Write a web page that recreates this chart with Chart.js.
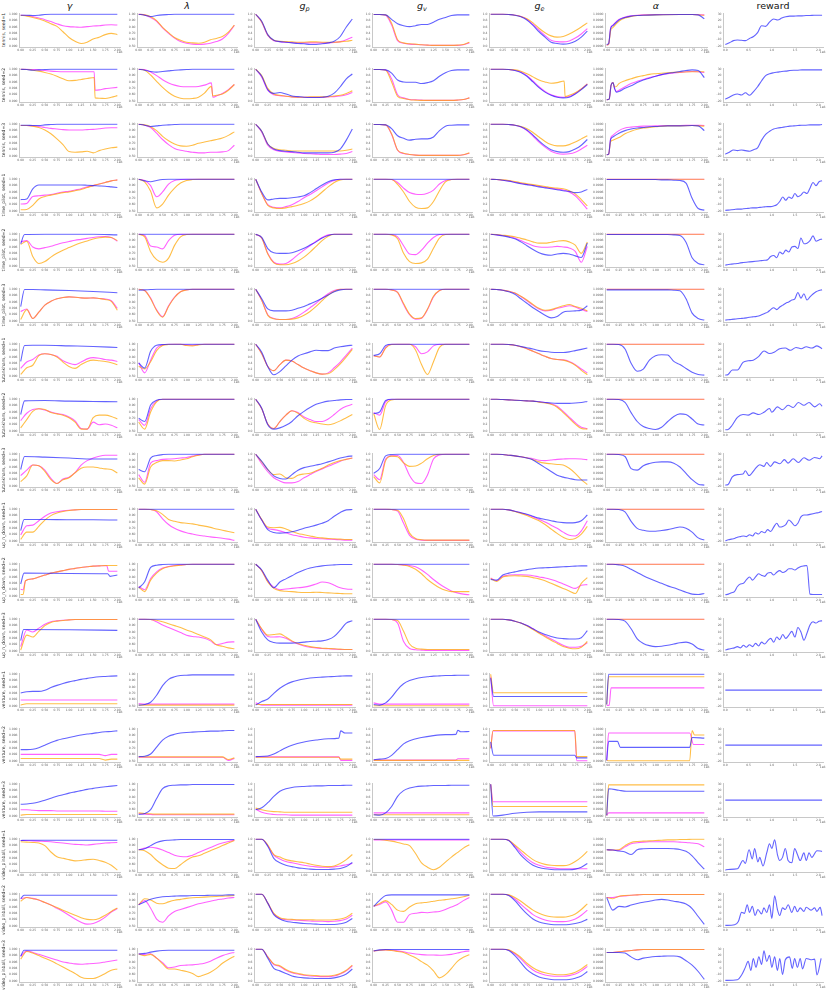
<!DOCTYPE html>
<html><head><meta charset="utf-8">
<script src="https://cdn.jsdelivr.net/npm/chart.js@4"></script>
<style>
html,body{margin:0;padding:0;background:#fff;}
body{width:830px;height:997px;position:relative;overflow:hidden;font-family:"DejaVu Sans",sans-serif;}
canvas{position:absolute;}
.hdr{position:absolute;top:0;font-size:9.5px;line-height:12px;color:#111;transform:translateX(-50%);white-space:nowrap;}
.hdr i{font-style:italic;}
.hdr sub{font-size:6.5px;vertical-align:-2px;}
.rl{position:absolute;width:80px;height:6px;line-height:6px;font-size:4.5px;color:#333;text-align:center;transform:rotate(-90deg);white-space:nowrap;}
</style>
</head><body>
<script>
// ---------- labels ----------
const columnTitles = ['<i>γ</i>','<i>λ</i>','<i>g</i><sub><i>p</i></sub>','<i>g</i><sub><i>v</i></sub>','<i>g</i><sub><i>e</i></sub>','<i>α</i>','reward'];
const rowLabels = ['tennis, seed=1','tennis, seed=2','tennis, seed=3','time_pilot, seed=1','time_pilot, seed=2','time_pilot, seed=3','tutankham, seed=1','tutankham, seed=2','tutankham, seed=3','up_n_down, seed=1','up_n_down, seed=2','up_n_down, seed=3','venture, seed=1','venture, seed=2','venture, seed=3','video_pinball, seed=1','video_pinball, seed=2','video_pinball, seed=3'];
const xTickVals = [0,0.25,0.5,0.75,1,1.25,1.5,1.75,2];
const xTickLabels = ['0.00','0.25','0.50','0.75','1.00','1.25','1.50','1.75','2.00'];
const rewardXTickVals = [0,0.5,1,1.5,2];
const rewardXTickLabels = ['0.0','0.5','1.0','1.5','2.0'];
const yTickVals = [0,20,40,60,80,100];
const gammaTickLabels = ['0.990','0.992','0.994','0.996','0.998','1.000'];
const lambdaTickLabels = ['0.50','0.60','0.70','0.80','0.90','1.00'];
const gpTickLabels = ['0.0','0.2','0.4','0.6','0.8','1.0'];
const gvTickLabels = ['0.0','0.2','0.4','0.6','0.8','1.0'];
const geTickLabels = ['0.0','0.2','0.4','0.6','0.8','1.0'];
const alphaTickLabels = ['0.9990','0.9992','0.9994','0.9996','0.9998','1.0000'];
const rewardTickLabels = ['-20','-10','0','10','20','30'];

// ---------- data: each panel = [blue, magenta, orange], values in % of panel height ----------
// tennis seed=1
const tennis1_gamma = [[97,97,96,97,99,100,100,100,100,100,100,100,100,100,100,100,100],[97,96,93,88,83,77,70,64,61,60,59,61,63,64,66,67,66],[97,94,90,85,79,70,62,45,27,15,8,12,22,28,36,40,36]];
const tennis1_lambda = [[100,97,93,96,98,99,100,100,100,100,100,100,100,100,100,100,100],[100,98,90,78,57,40,25,14,9,6,5,6,9,14,22,40,65],[100,98,92,80,59,42,27,18,12,10,9,12,20,24,30,44,66]];
const tennis1_gp = [[100,78,36,18,14,12,10,8,7,5,5,7,10,15,30,60,85],[100,75,33,17,14,12,11,10,10,10,10,10,10,11,14,20,28],[100,76,35,18,15,14,13,12,12,13,13,12,12,12,13,15,18]];
const tennis1_gv = [[99,99,98,84,70,64,61,64,68,68,75,84,90,96,98,98,98],[99,99,97,66,17,9,6,5,4,3,2,2,2,2,2,4,10],[99,99,98,72,20,10,7,6,4,3,2,2,2,2,3,5,12]];
const tennis1_ge = [[100,100,100,99,97,92,82,65,45,28,12,8,6,8,15,28,47],[100,100,100,99,97,93,84,68,50,33,18,14,13,16,25,38,55],[100,100,100,99,97,93,86,73,56,42,32,28,30,38,48,60,73]];
const tennis1_alpha = [[[0,5],[0.04,8],[0.08,55],[0.125,64],[0.25,82],[0.375,90],[0.5,94],[0.625,96],[0.75,97],[1,98],[1.5,99],[1.75,99],[1.875,98],[2,86]],[[0,3],[0.04,6],[0.08,56],[0.125,66],[0.25,84],[0.375,91],[0.5,95],[0.625,97],[0.75,98],[1,99],[1.5,99],[1.75,99],[2,98]],[[0,3],[0.04,6],[0.08,48],[0.125,58],[0.25,78],[0.375,88],[0.5,93],[0.625,96],[0.75,97],[1,98],[1.5,99],[1.75,99],[2,97]]];
const tennis1_reward = [5,10,17,19,18,17,24,30,42,64,62,76,85,82,88,92,94,94,95,95,96,96,97,97,97];
// tennis seed=2
const tennis2_gamma = [[100,99,97,98,99,100,100,100,100,100,100,100,100,100,100,100,100],[[0,100],[0.125,100],[0.25,99],[0.375,98],[0.5,96],[0.625,94],[0.75,93],[1,92],[1.52,92],[1.54,34],[1.625,35],[1.75,39],[1.875,41],[2,43]],[[0,100],[0.125,99],[0.25,97],[0.375,94],[0.5,90],[0.625,85],[0.75,78],[0.875,70],[1,64],[1.125,65],[1.25,68],[1.375,71],[1.52,74],[1.54,10],[1.625,9],[1.75,8],[1.875,12],[2,17]]];
const tennis2_lambda = [[100,97,93,91,93,95,97,98,99,100,100,100,100,100,100,100,100],[[0,100],[0.125,99],[0.25,91],[0.375,80],[0.5,67],[0.625,57],[0.75,50],[0.875,46],[1,45],[1.125,45],[1.25,46],[1.375,50],[1.52,57],[1.55,12],[1.625,16],[1.75,24],[1.875,36],[2,52]],[[0,100],[0.125,97],[0.25,82],[0.375,62],[0.5,43],[0.625,27],[0.75,15],[0.875,9],[1,7],[1.125,8],[1.25,12],[1.375,25],[1.52,46],[1.55,16],[1.625,18],[1.75,22],[1.875,34],[2,52]]];
const tennis2_gp = [[100,78,36,24,27,22,16,14,12,11,11,12,15,25,45,70,85],[100,75,34,20,17,15,13,12,12,12,12,12,13,14,16,20,27],[100,80,40,22,18,15,13,12,12,13,13,13,14,16,18,24,32]];
const tennis2_gv = [[99,99,98,88,66,60,59,59,55,58,64,78,89,96,98,98,98],[99,99,98,70,20,10,5,4,3,2,2,2,2,2,3,5,10],[99,99,97,60,15,8,4,3,2,2,2,2,2,2,3,5,10]];
const tennis2_ge = [[100,100,100,99,96,90,78,60,42,28,18,12,10,12,22,36,52],[100,100,100,99,97,91,80,63,45,30,20,14,12,14,24,38,54],[[0,100],[0.25,100],[0.375,99],[0.5,98],[0.625,94],[0.75,86],[0.875,76],[1,66],[1.125,60],[1.25,56],[1.375,58],[1.52,63],[1.54,14],[1.625,18],[1.75,26],[1.875,38],[2,54]]];
const tennis2_alpha = [[[0,4],[0.05,6],[0.09,50],[0.13,58],[0.16,40],[0.2,28],[0.25,30],[0.375,40],[0.5,48],[0.625,58],[0.75,66],[0.875,72],[1,78],[1.125,83],[1.25,87],[1.375,90],[1.5,93],[1.625,96],[1.75,98],[1.875,96],[2,74]],[[0,4],[0.05,6],[0.09,50],[0.13,58],[0.16,40],[0.2,30],[0.25,34],[0.375,45],[0.5,55],[0.625,62],[0.75,68],[0.875,74],[1,78],[1.125,83],[1.25,86],[1.375,88],[1.5,90],[1.625,92],[1.75,93],[1.875,92],[2,90]],[[0,4],[0.05,6],[0.09,50],[0.13,58],[0.16,44],[0.2,46],[0.25,55],[0.375,64],[0.5,70],[0.625,76],[0.75,80],[0.875,84],[1,86],[1.25,89],[1.5,91],[1.75,92],[2,92]]];
const tennis2_reward = [6,12,19,22,19,26,18,30,45,64,80,86,89,91,93,94,96,97,97,98,98,98,98,98,98];
// tennis seed=3
const tennis3_gamma = [[97,97,96,96,98,99,100,100,100,100,100,100,100,100,100,100,100],[96,96,95,93,90,87,85,83,82,82,82,83,84,86,88,89,89],[96,96,94,90,82,70,54,36,14,12,13,15,10,17,22,26,28]];
const tennis3_lambda = [[100,97,93,95,97,98,99,100,100,100,100,100,100,100,100,100,100],[100,97,90,72,52,36,24,18,15,12,10,10,12,12,13,17,34],[100,98,92,80,62,48,38,32,31,34,40,44,48,52,57,65,76]];
const tennis3_gp = [[100,78,38,22,17,15,14,12,10,10,10,10,10,12,22,50,85],[100,75,34,20,15,13,11,10,8,7,6,5,5,5,6,8,14],[100,78,38,24,20,18,16,16,16,16,16,16,16,16,16,18,22]];
const tennis3_gv = [[99,99,98,86,64,56,50,53,54,54,60,80,94,97,98,98,98],[99,99,98,68,18,8,5,3,2,2,2,2,2,2,2,4,9],[99,99,98,70,19,9,5,3,2,2,2,2,2,2,2,4,10]];
const tennis3_ge = [[100,100,100,99,97,92,82,66,48,32,20,14,12,14,22,34,52],[100,100,100,99,97,91,80,63,44,28,15,8,6,7,12,22,34],[100,100,100,99,97,93,86,74,60,46,36,32,32,36,44,54,64]];
const tennis3_alpha = [[[0,4],[0.04,6],[0.08,52],[0.125,60],[0.25,72],[0.375,80],[0.5,85],[0.625,88],[0.75,90],[0.875,92],[1,93],[1.25,95],[1.5,95],[1.75,96],[1.875,95],[2,80]],[[0,4],[0.04,6],[0.08,55],[0.125,65],[0.25,80],[0.375,88],[0.5,91],[0.625,93],[0.75,94],[1,95],[1.25,96],[1.5,96],[1.75,97],[2,96]],[[0,4],[0.04,6],[0.08,45],[0.125,50],[0.25,58],[0.375,70],[0.5,78],[0.625,84],[0.75,88],[0.875,90],[1,92],[1.25,95],[1.5,95],[1.75,96],[2,94]]];
const tennis3_reward = [6,12,19,17,19,17,15,20,26,50,68,78,85,88,90,92,94,95,96,97,97,98,98,98,99];
// time_pilot seed=1
const timepilot1_gamma = [[36,38,70,82,82,82,82,82,82,82,82,81,80,79,78,76,74],[22,24,46,48,50,52,56,60,62,66,70,76,80,85,90,95,98],[4,5,18,38,46,50,54,58,60,64,68,74,80,85,90,95,98]];
const timepilot1_lambda = [[100,95,92,96,99,100,100,100,100,100,100,100,100,100,100,100,100],[100,96,80,45,60,85,96,99,100,100,100,100,100,100,100,100,100],[100,92,62,10,22,50,72,88,96,99,100,100,100,100,100,100,100]];
const timepilot1_gp = [[100,60,35,38,40,40,42,44,48,58,70,82,92,98,100,100,100],[100,55,20,12,10,14,20,30,42,52,64,76,88,96,100,100,100],[100,55,18,10,8,10,14,18,24,32,44,60,76,90,98,100,100]];
const timepilot1_gv = [[100,100,100,100,100,100,100,100,100,100,100,100,100,100,100,100,100],[100,100,100,99,90,72,58,53,52,56,66,85,96,99,100,100,100],[100,100,100,99,84,60,30,12,8,10,30,64,92,99,100,100,100]];
const timepilot1_ge = [[100,99,97,94,90,86,83,80,76,73,70,67,64,62,58,60,68],[100,99,97,95,91,87,84,81,78,75,72,69,66,60,48,28,6],[100,99,98,96,93,89,86,83,80,77,74,72,70,64,54,36,16]];
const timepilot1_alpha = [[99,99,99,99,99,99,99,99,99,98,98,97,96,88,40,8,3],[100,100,100,100,100,100,100,100,100,100,100,100,100,100,100,100,100],[100,100,100,100,100,100,100,100,100,100,100,100,100,100,100,100,100]];
const timepilot1_reward = [2,3,4,5,6,6,7,8,9,10,10,11,12,13,14,14,16,20,30,44,34,44,40,55,45,50,60,55,72,90,80,92,95];
// time_pilot seed=2
const timepilot2_gamma = [[[0,70],[0.08,99],[0.5,100],[1.5,100],[2,98]],[76,80,60,54,58,62,68,73,77,81,84,87,90,92,93,90,78],[68,78,30,8,14,28,40,50,58,66,73,79,85,89,91,90,80]];
const timepilot2_lambda = [[100,100,100,100,100,100,100,100,100,100,100,100,100,100,100,100,100],[100,96,63,60,54,80,97,100,100,100,100,100,100,100,100,100,100],[100,92,45,20,12,25,65,92,99,100,100,100,100,100,100,100,100]];
const timepilot2_gp = [[100,90,55,42,40,40,42,48,56,66,76,88,96,100,100,100,100],[100,88,40,12,6,8,20,36,50,64,78,90,98,100,100,100,100],[100,88,38,10,4,4,8,16,28,44,62,80,94,100,100,100,100]];
const timepilot2_gv = [[100,100,100,100,100,100,100,100,100,100,100,100,100,100,100,100,100],[100,100,100,99,92,64,38,36,50,72,90,99,100,100,100,100,100],[100,100,100,98,86,40,14,8,10,22,56,88,99,100,100,100,100]];
const timepilot2_ge = [[100,98,95,91,86,76,64,52,42,36,34,38,40,38,32,27,72],[100,98,96,93,88,80,72,64,60,59,60,62,60,57,46,12,62],[100,99,97,95,92,87,82,76,72,72,75,78,80,76,66,40,76]];
const timepilot2_alpha = [[99,99,99,99,99,99,99,99,99,99,99,98,96,75,26,8,4],[100,100,100,100,100,100,100,100,100,100,100,100,100,100,100,100,100],[100,100,100,100,100,100,100,100,100,100,100,100,100,100,100,100,100]];
const timepilot2_reward = [3,5,6,7,8,10,11,12,13,14,15,16,17,18,20,30,33,26,44,38,50,44,60,62,55,88,70,72,80,95,78,82,85];
// time_pilot seed=3
const timepilot3_gamma = [[[0,45],[0.08,99],[0.25,99],[0.5,98],[1,96],[1.5,93],[2,89]],[30,38,8,28,50,62,70,74,76,75,73,72,73,71,69,64,40],[5,36,8,28,50,62,70,74,76,75,73,72,73,71,68,62,34]];
const timepilot3_lambda = [[97,98,99,100,100,100,100,100,100,100,100,100,100,100,100,100,100],[100,96,72,35,14,48,75,92,98,100,100,100,100,100,100,100,100],[100,96,70,33,12,46,74,92,98,100,100,100,100,100,100,100,100]];
const timepilot3_gp = [[100,70,38,32,32,32,34,40,46,54,62,72,82,92,98,100,100],[100,65,20,8,5,5,8,16,28,42,56,72,86,96,100,100,100],[100,65,18,7,5,5,6,10,18,30,46,64,82,94,100,100,100]];
const timepilot3_gv = [[100,100,100,100,100,100,100,100,100,100,100,100,100,100,100,100,100],[100,100,100,98,90,52,20,6,9,36,76,96,100,100,100,100,100],[100,100,100,98,90,55,22,8,10,38,78,96,100,100,100,100,100]];
const timepilot3_ge = [[100,99,97,92,84,70,56,42,30,18,10,14,28,31,32,34,48],[100,99,97,94,88,77,64,50,38,32,34,40,44,48,44,36,30],[100,99,97,94,88,78,66,52,40,34,36,42,48,52,46,40,32]];
const timepilot3_alpha = [[98,98,98,98,98,98,98,98,98,98,98,97,95,70,25,8,3],[100,100,100,100,100,100,100,100,100,100,100,100,100,100,100,100,100],[100,100,100,100,100,100,100,100,100,100,100,100,100,100,100,100,100]];
const timepilot3_reward = [3,4,5,6,7,8,9,10,12,13,14,16,20,24,28,36,42,36,44,50,56,60,66,70,90,72,86,66,76,85,92,96,98];
// tutankham seed=1
const tutankham1_gamma = [[[0,46],[0.08,96],[0.25,97],[0.5,97],[1,95],[1.5,93],[2,90]],[24,44,52,66,70,68,62,48,40,36,44,54,58,56,52,50,46],[5,26,34,64,70,68,60,44,30,24,36,46,50,48,46,42,36]];
const tutankham1_lambda = [[41,25,78,97,99,100,100,100,100,100,100,100,100,100,100,100,100],[42,10,50,88,98,100,100,100,98,97,99,100,100,100,100,100,100],[31,22,45,80,96,99,100,100,96,95,98,100,100,100,100,100,100]];
const tutankham1_gp = [[100,75,30,4,14,32,50,63,70,76,81,80,80,88,92,95,97],[100,70,30,17,36,50,47,36,25,17,10,6,10,26,44,66,88],[100,70,30,17,36,50,47,36,25,17,10,6,7,20,38,60,84]];
const tutankham1_gv = [[65,70,96,100,100,100,100,100,100,100,100,100,100,100,100,100,100],[64,60,90,100,100,100,100,92,70,76,95,100,100,100,100,100,100],[64,60,88,99,100,100,100,82,36,5,45,90,100,100,100,100,100]];
const tutankham1_ge = [[100,100,100,99,97,93,89,85,80,77,75,74,74,76,80,84,88],[100,100,100,99,97,92,86,78,70,62,55,52,51,46,36,22,10],[100,100,100,99,97,92,86,78,70,62,55,52,50,44,34,18,4]];
const tutankham1_alpha = [[100,100,99,85,40,15,22,50,64,67,66,46,36,24,12,5,3],[100,100,100,100,100,100,100,100,100,100,100,100,100,100,100,100,100],[100,100,100,100,100,100,100,100,100,100,100,100,100,100,100,100,100]];
const tutankham1_reward = [[0,3],[0.06,5],[0.15,19],[0.26,19],[0.38,43],[0.49,48],[0.6,50],[0.72,62],[0.83,79],[0.95,71],[1.06,76],[1.17,86],[1.29,88],[1.4,81],[1.52,90],[1.63,86],[1.74,92],[1.86,88],[1.97,95],[2.08,86]];
// tutankham seed=2
const tutankham2_gamma = [[[0,52],[0.08,95],[0.5,96],[1,94],[1.5,93],[2,92]],[33,56,68,70,66,60,55,52,44,32,8,6,28,20,22,18,10],[10,36,62,70,68,58,54,50,42,28,6,6,42,50,50,46,38]];
const tutankham2_lambda = [[40,30,82,97,100,100,100,100,100,100,100,100,100,100,100,100,100],[36,18,70,95,100,100,100,100,100,100,100,100,100,100,100,100,100],[28,6,60,92,100,100,100,100,100,100,100,100,100,100,100,100,100]];
const tutankham2_gp = [[100,72,20,6,10,18,30,48,62,74,84,90,94,96,98,99,99],[100,70,22,8,30,50,64,58,44,36,30,30,38,52,68,78,84],[100,70,22,8,30,50,64,56,40,30,26,22,20,24,32,42,52]];
const tutankham2_gv = [[55,60,96,100,100,100,100,100,100,100,100,100,100,100,100,100,100],[58,50,92,100,100,100,100,100,100,100,100,100,100,100,100,100,100],[55,5,80,98,100,100,100,100,100,100,100,100,100,100,100,100,100]];
const tutankham2_ge = [[100,100,99,98,97,96,95,94,92,90,88,87,87,87,88,90,93],[100,100,99,98,97,96,95,94,92,90,86,78,62,44,26,12,8],[100,100,99,98,97,96,95,94,91,88,84,75,58,40,22,8,6]];
const tutankham2_alpha = [[100,100,99,90,58,30,14,8,5,12,30,46,54,52,38,22,19],[100,100,100,100,100,100,100,100,100,100,100,100,100,100,100,100,100],[100,100,100,100,100,100,100,100,100,100,100,100,100,100,100,100,100]];
const tutankham2_reward = [[0,4],[0.06,5],[0.15,19],[0.26,43],[0.38,52],[0.49,50],[0.6,57],[0.72,52],[0.83,59],[0.95,71],[1.0,59],[1.12,76],[1.23,67],[1.35,81],[1.46,74],[1.57,90],[1.69,81],[1.8,90],[1.92,76],[2.03,86],[2.08,78]];
// tutankham seed=3
const tutankham3_gamma = [[[0,52],[0.08,93],[0.5,91],[1,88],[1.5,85],[2,85]],[33,50,66,64,50,24,8,22,28,42,66,80,88,94,97,97,97],[14,32,66,64,46,20,8,20,26,42,56,60,60,57,54,52,41]];
const tutankham3_lambda = [[52,45,88,96,99,100,100,100,100,100,100,100,100,100,100,100,100],[36,12,72,80,84,85,86,88,90,94,98,100,100,100,100,100,100],[26,6,60,74,80,80,79,82,86,92,97,100,100,100,100,100,100]];
const tutankham3_gp = [[100,78,52,32,24,22,36,50,58,62,66,70,76,82,88,92,95],[100,70,45,26,16,10,10,14,26,36,46,54,62,70,78,84,88],[100,76,52,36,38,26,24,34,38,40,48,56,66,74,80,84,88]];
const tutankham3_gv = [[40,55,95,99,100,100,100,100,100,100,100,100,100,100,100,100,100],[36,20,85,95,96,74,33,10,8,35,85,98,100,100,100,100,100],[30,10,80,94,92,73,62,63,72,86,96,100,100,100,100,100,100]];
const tutankham3_ge = [[100,100,99,97,95,92,88,82,70,58,46,34,28,24,20,19,19],[100,100,99,97,95,92,89,86,81,80,82,84,85,86,86,85,83],[100,100,99,97,95,92,88,83,76,72,70,68,66,56,40,20,5]];
const tutankham3_alpha = [[100,100,99,93,55,50,64,71,75,76,76,72,60,40,20,6,3],[100,100,100,100,100,100,100,100,100,100,100,100,100,100,100,100,100],[100,100,100,100,100,100,100,100,100,100,100,100,100,100,100,100,100]];
const tutankham3_reward = [[0,3],[0.06,5],[0.15,29],[0.26,36],[0.38,38],[0.43,48],[0.51,33],[0.63,52],[0.74,67],[0.83,62],[0.89,74],[0.97,62],[1.06,76],[1.17,70],[1.27,83],[1.35,72],[1.46,86],[1.57,74],[1.69,89],[1.8,81],[1.92,90],[2.03,86],[2.08,95]];
// up_n_down seed=1
const upndown1_gamma = [[[0,33],[0.07,68],[0.5,68],[1,67],[1.5,67],[2,66]],[19,48,50,64,78,88,92,95,97,98,99,99,99,99,99,99,99],[5,28,28,46,66,80,88,93,96,98,99,99,99,99,99,99,99]];
const upndown1_lambda = [[100,100,100,100,100,100,100,100,100,100,100,100,100,100,100,100,100],[100,100,99,92,70,52,40,32,26,22,18,16,13,11,9,6,2],[100,100,99,95,84,68,62,58,56,54,50,47,43,38,34,30,26]];
const upndown1_gp = [[100,66,36,27,25,26,29,34,40,45,50,56,64,78,90,98,99],[100,66,40,36,32,26,20,16,12,10,8,7,6,5,4,3,3],[100,68,44,42,43,38,30,24,20,16,12,10,8,7,6,5,5]];
const upndown1_gv = [[100,100,100,100,100,100,100,100,100,100,100,100,100,100,100,100,100],[100,100,100,99,94,56,18,6,3,2,2,2,2,2,2,2,2],[100,100,100,99,97,70,25,8,4,3,3,3,3,3,3,3,3]];
const upndown1_ge = [[100,100,100,98,94,89,84,78,72,68,64,60,58,57,58,64,82],[100,100,100,98,94,89,83,76,68,60,50,40,28,18,16,32,64],[100,100,100,98,93,87,80,72,64,52,38,24,12,5,8,22,46]];
const upndown1_alpha = [[100,100,99,92,62,40,34,31,31,33,36,40,44,40,28,10,3],[100,100,100,100,100,100,100,100,100,100,100,100,100,100,100,100,100],[100,100,100,100,100,100,100,100,100,100,100,100,100,100,100,100,100]];
const upndown1_reward = [1,4,6,8,12,14,16,14,20,16,26,22,30,26,36,30,44,56,44,46,52,66,58,48,56,76,82,82,84,86,88,90,93];
// up_n_down seed=2
const upndown2_gamma = [[[0,38],[0.07,72],[1,71],[1.8,70],[1.85,62],[2,66]],[[0,21],[0.05,20],[0.1,48],[0.25,54],[0.375,60],[0.5,66],[0.625,72],[0.75,76],[0.875,80],[1,84],[1.125,87],[1.25,90],[1.375,92],[1.5,94],[1.625,95],[1.78,96],[1.82,78],[2,78]],[[0,5],[0.05,5],[0.1,48],[0.25,54],[0.375,60],[0.5,66],[0.625,72],[0.75,76],[0.875,80],[1,84],[1.125,87],[1.25,90],[1.375,92],[1.5,94],[1.625,95],[1.75,96],[2,96]]];
const upndown2_lambda = [[25,45,90,97,99,100,100,100,100,100,100,100,100,100,100,100,100],[30,20,55,76,88,93,96,98,99,100,100,100,100,100,100,100,100],[28,14,50,72,86,92,95,97,99,100,100,100,100,100,100,100,100]];
const upndown2_gp = [[100,82,50,26,44,54,64,74,82,88,92,95,97,98,99,99,99],[100,80,46,28,20,22,24,26,28,32,38,44,42,34,26,22,21],[100,80,44,24,17,15,14,12,11,11,12,11,10,9,8,7,7]];
const upndown2_gv = [[100,100,100,100,100,100,100,100,100,100,100,100,100,100,100,100,100],[100,100,100,100,99,98,96,92,82,68,52,38,26,16,10,6,4],[100,100,100,100,99,97,93,84,70,52,38,26,18,14,14,14,14]];
const upndown2_ge = [[52,50,66,72,76,80,83,86,88,89,90,91,92,93,94,95,95],[57,48,62,66,67,67,66,64,60,57,52,46,38,30,24,34,36],[55,46,60,63,64,63,62,58,54,48,40,32,24,16,8,40,58]];
const upndown2_alpha = [[100,100,98,94,84,74,64,55,47,40,32,26,19,12,6,5,8],[100,100,100,100,100,100,100,100,100,100,100,100,100,100,100,100,100],[100,100,100,100,100,100,100,100,100,100,100,100,100,100,100,100,100]];
const upndown2_reward = [4,6,10,14,30,38,40,52,60,50,60,70,65,62,72,74,66,75,80,74,78,86,86,82,88,93,95,96,6,5,5,5,5];
// up_n_down seed=3
const upndown3_gamma = [[[0,33],[0.06,68],[1,67],[2,65]],[14,66,60,72,84,92,95,97,98,99,99,99,99,99,99,99,99],[3,50,44,62,80,90,94,96,98,99,99,99,99,99,99,99,99]];
const upndown3_lambda = [[100,100,100,100,100,100,100,100,100,100,100,100,100,100,100,100,100],[100,100,99,92,82,74,66,58,50,46,44,40,32,20,24,28,29],[100,100,99,97,92,86,80,74,66,60,52,44,36,20,15,10,7]];
const upndown3_gp = [[100,60,35,27,25,25,25,26,28,30,31,32,36,46,66,88,95],[100,68,46,44,45,40,30,22,16,12,10,8,7,6,5,5,5],[100,70,50,52,54,44,32,24,18,14,11,9,8,7,6,5,5]];
const upndown3_gv = [[100,100,100,100,100,100,100,100,100,100,100,100,100,100,100,100,100],[100,100,100,99,88,30,8,4,3,2,2,2,2,2,2,2,2],[100,100,100,99,96,62,22,9,6,5,5,5,5,5,5,5,5]];
const upndown3_ge = [[100,100,100,98,94,88,80,70,60,52,46,41,39,38,38,42,64],[100,100,100,98,94,88,80,70,58,48,38,28,18,12,12,15,26],[100,100,100,98,94,88,79,68,56,45,34,24,14,9,7,12,30]];
const upndown3_alpha = [[100,100,99,94,70,38,24,17,14,15,18,22,26,28,22,8,3],[100,100,100,100,100,100,100,100,100,100,100,100,100,100,100,100,100],[100,100,100,100,100,100,100,100,100,100,100,100,100,100,100,100,100]];
const upndown3_reward = [3,6,8,10,14,10,18,12,20,14,24,16,28,22,32,40,28,44,36,52,40,50,62,44,74,60,34,56,82,92,88,94,95];
// venture seed=1
const venture1_gamma = [[41,45,46,46,50,58,65,71,76,80,84,87,90,92,93,94,95],[19,19,19,19,19,19,19,19,19,19,19,19,19,19,19,19,19],[3,7,7,7,7,7,7,7,7,7,7,7,7,7,7,7,7]];
const venture1_lambda = [[3,5,12,34,64,84,92,96,97,98,98,98,98,98,98,98,98],[8,6,6,6,6,6,6,6,6,6,6,6,6,6,6,6,6],[3,3,3,3,3,3,3,3,3,3,3,3,3,3,3,3,3]];
const venture1_gp = [[3,14,22,40,56,68,76,81,85,88,90,91,92,93,94,95,95],[10,3,3,3,3,3,3,3,3,3,3,3,3,3,3,3,3],[5,5,5,5,5,5,5,5,5,5,5,5,5,5,5,5,5]];
const venture1_gv = [[5,3,10,28,52,70,80,86,90,92,94,95,96,96,97,97,97],[10,6,6,6,6,6,6,6,6,6,6,6,6,6,6,6,6],[1,1,1,1,1,1,1,1,1,1,1,1,1,1,1,1,1]];
const venture1_ge = [[[0,88],[0.06,30],[2,30]],[[0,92],[0.06,1],[2,1]],[[0,100],[0.06,42],[2,42]]];
const venture1_alpha = [[[0,5],[0.04,100],[2,100]],[[0,2],[0.05,2],[0.09,57],[2,57]],[[0,5],[0.04,92],[2,92]]];
const venture1_reward = [50,50,50,50,50,50,50,50,50];
// venture seed=2
const venture2_gamma = [[36,36,37,42,50,58,65,70,74,78,82,85,87,90,92,93,95],[21,21,21,21,21,21,21,21,21,21,21,21,21,21,17,21,21],[8,8,8,8,8,8,8,8,8,8,8,8,8,8,3,6,6]];
const venture2_lambda = [[14,15,22,44,66,78,84,88,90,91,92,93,94,94,95,96,96],[12,12,12,12,12,12,12,12,12,12,12,12,12,12,12,2,8],[13,13,13,13,13,13,13,13,13,13,13,13,13,13,13,5,10]];
const venture2_gp = [[[0,14],[0.25,16],[0.375,22],[0.5,32],[0.625,42],[0.75,50],[1,60],[1.25,66],[1.5,70],[1.72,72],[1.76,95],[1.85,88],[2,88]],[[0,13],[1.72,13],[1.76,2],[2,2]],[[0,12],[1.72,12],[1.76,6],[2,6]]];
const venture2_gv = [[[0,4],[0.125,6],[0.25,8],[0.375,18],[0.5,36],[0.625,54],[0.75,64],[1,74],[1.25,80],[1.5,83],[1.72,84],[1.76,97],[1.82,92],[2,93]],[[0,3],[1.72,3],[1.76,7],[2,7]],[[0,2],[2,2]]];
const venture2_ge = [[[0,60],[0.06,18],[1.74,18],[1.78,10],[2,10]],[[0,40],[0.05,95],[1.74,95],[1.78,1],[2,1]],[[0,40],[0.05,96],[1.74,96],[1.78,14],[2,14]]];
const venture2_alpha = [[[0,2],[0.04,62],[0.22,62],[0.28,43],[1.7,43],[1.75,74],[2,72]],[[0,2],[0.04,88],[1.7,88],[1.78,52],[2,52]],[[0,2],[0.04,1],[1.7,1],[1.75,96],[1.8,82],[2,82]]];
const venture2_reward = [50,50,50,50,50,50,50,50,50];
// venture seed=3
const venture3_gamma = [[37,38,40,44,50,56,62,67,72,76,80,84,87,90,92,94,96],[20,20,18,17,17,17,16,16,16,16,16,16,16,16,15,15,15],[3,5,5,5,5,5,5,5,5,5,5,5,5,5,5,5,5]];
const venture3_lambda = [[5,8,20,55,86,95,97,98,98,99,99,99,99,99,99,99,99],[8,6,5,4,4,4,4,4,4,4,4,4,4,4,4,4,4],[10,8,7,6,6,6,6,6,6,6,6,6,6,6,6,6,6]];
const venture3_gp = [[20,26,42,62,78,86,90,92,93,94,95,95,96,96,96,97,97],[22,12,7,5,4,4,3,3,3,3,3,3,3,3,3,3,3],[25,20,16,14,13,12,12,12,12,12,12,12,12,12,12,12,12]];
const venture3_gv = [[4,3,10,30,62,80,88,92,94,95,96,96,96,97,97,97,97],[10,10,10,10,10,10,10,10,10,10,10,10,10,10,10,10,10],[4,4,4,4,4,4,4,4,4,4,4,4,4,4,4,4,4]];
const venture3_ge = [[[0,100],[0.05,0],[0.25,3],[0.5,9],[0.75,12],[1,13],[2,13]],[[0,100],[0.05,45],[2,45]],[[0,100],[0.05,30],[2,30]]];
const venture3_alpha = [[[0,2],[0.04,86],[0.25,81],[0.4,78],[2,78]],[[0,2],[0.04,10],[2,10]],[[0,2],[0.04,98],[2,98]]];
const venture3_reward = [50,50,50,50,50,50,50,50,50];
// video_pinball seed=1
const videopinball1_gamma = [[96,97,97,97,97,97,97,97,97,97,97,97,97,97,97,97,97],[96,96,95,94,93,92,90,88,86,84,83,82,84,86,88,89,90],[92,91,90,88,80,60,45,40,36,32,33,36,37,33,28,18,3]];
const videopinball1_lambda = [[67,70,80,90,95,97,98,99,99,99,99,99,99,99,99,99,99],[67,72,75,72,66,58,50,46,45,50,58,66,74,82,88,93,97],[67,64,52,34,20,9,8,20,34,44,48,56,64,72,80,88,96]];
const videopinball1_gp = [[100,100,78,40,26,18,14,10,8,6,5,5,5,6,8,14,27],[100,100,80,50,38,30,26,22,18,15,13,12,12,13,16,20,24],[100,100,82,52,44,36,32,29,26,22,18,15,14,16,24,36,52]];
const videopinball1_gv = [[100,100,100,100,100,100,100,100,100,100,100,100,100,100,100,100,100],[98,98,98,98,98,98,98,98,98,98,98,98,98,98,98,98,98],[99,99,97,94,90,85,80,55,26,12,4,12,28,44,58,72,83]];
const videopinball1_ge = [[100,100,100,96,74,50,32,18,11,7,5,4,4,4,6,12,24],[100,100,100,96,78,58,40,26,18,13,10,8,7,7,7,7,7],[100,100,100,97,82,66,50,36,27,21,18,17,17,20,30,44,62]];
const videopinball1_alpha = [[67,66,63,60,52,67,70,71,71,71,71,70,68,62,48,26,6],[67,66,65,76,86,89,91,92,92,92,92,92,91,90,88,86,76],[67,66,67,80,90,93,94,95,96,97,98,98,99,99,100,100,100]];
const videopinball1_reward = [[0,3],[0.06,5],[0.26,7],[0.38,33],[0.43,24],[0.51,67],[0.58,38],[0.63,71],[0.7,29],[0.74,43],[0.81,16],[0.89,57],[0.95,86],[1.0,71],[1.06,98],[1.12,52],[1.17,33],[1.23,43],[1.29,71],[1.35,33],[1.43,26],[1.49,71],[1.55,52],[1.61,33],[1.69,57],[1.74,33],[1.8,57],[1.86,43],[1.97,64],[2.08,62]];
// video_pinball seed=2
const videopinball2_gamma = [[[0,86],[0.07,97],[2,97]],[86,90,87,82,74,66,56,46,34,22,12,6,8,16,28,44,55],[78,90,86,82,74,66,58,50,42,34,26,21,20,24,34,46,57]];
const videopinball2_lambda = [[67,76,84,89,92,93,94,95,95,96,96,96,97,97,97,98,98],[67,80,56,22,12,32,46,52,58,64,70,74,78,82,85,88,90],[67,86,82,72,70,76,81,84,87,89,90,91,92,93,94,95,96]];
const videopinball2_gp = [[100,100,72,36,22,15,12,10,8,7,6,5,5,5,7,12,24],[100,100,72,38,24,20,19,18,17,16,15,15,14,15,17,22,34],[100,100,72,40,26,22,21,20,20,20,19,19,19,20,22,28,40]];
const videopinball2_gv = [[62,81,96,98,98,98,98,98,98,98,98,98,98,98,98,98,98],[62,68,76,50,12,12,36,40,43,42,44,46,52,60,68,80,90],[62,71,80,68,50,46,60,70,73,75,78,81,83,86,88,92,97]];
const videopinball2_ge = [[100,100,100,96,80,58,38,22,13,8,5,4,4,5,8,13,21],[100,100,100,97,85,68,52,36,26,19,15,14,14,16,22,34,50],[100,100,100,98,90,78,64,50,40,33,29,28,28,31,38,52,70]];
const videopinball2_alpha = [[90,50,62,60,66,71,75,78,82,84,82,78,75,69,55,30,5],[90,90,93,95,97,98,99,99,99,99,99,99,99,99,99,99,99],[90,86,94,96,97,98,99,99,99,99,99,99,99,99,99,99,99]];
const videopinball2_reward = [[0,2],[0.2,4],[0.28,14],[0.35,43],[0.41,40],[0.47,67],[0.52,43],[0.58,62],[0.64,33],[0.7,52],[0.78,38],[0.83,57],[0.89,43],[0.95,67],[1.0,24],[1.06,95],[1.12,52],[1.17,33],[1.23,57],[1.29,52],[1.35,67],[1.43,43],[1.49,62],[1.55,45],[1.61,57],[1.69,46],[1.74,59],[1.84,50],[1.92,57],[1.97,46],[2.04,59],[2.08,33]];
// video_pinball seed=3
const videopinball3_gamma = [[[0,78],[0.07,97],[2,97]],[78,95,90,84,78,72,66,60,57,54,53,54,55,57,60,63,66],[69,93,88,80,72,64,54,44,34,24,12,8,8,14,24,34,38]];
const videopinball3_lambda = [[85,87,91,94,96,97,97,97,97,97,97,97,97,97,97,97,97],[85,84,86,72,58,42,44,49,50,51,53,56,62,72,80,86,90],[85,80,84,72,54,38,38,34,30,24,14,20,28,40,56,68,78]];
const videopinball3_gp = [[100,100,72,40,32,24,16,12,10,9,8,8,8,10,14,22,38],[100,100,76,52,46,34,26,22,18,16,15,14,14,16,22,32,48],[100,100,76,54,48,36,28,24,20,18,17,16,16,18,24,34,50]];
const videopinball3_gv = [[95,98,99,99,99,99,99,99,99,99,99,99,99,99,99,99,99],[95,97,98,97,95,92,88,85,83,82,82,81,82,84,88,92,95],[95,97,98,96,93,90,82,73,61,50,32,10,20,40,62,75,83]];
const videopinball3_ge = [[100,100,100,96,80,58,36,22,13,8,5,4,4,5,9,16,30],[100,100,100,97,86,70,50,35,25,19,16,15,15,17,22,32,46],[100,100,100,98,88,74,56,42,32,26,22,20,20,22,28,38,52]];
const videopinball3_alpha = [[90,90,90,88,76,67,72,75,77,78,79,79,76,64,50,30,5],[90,90,92,94,96,98,99,99,99,99,99,99,99,99,99,99,99],[90,90,92,94,96,98,99,99,99,99,99,99,99,99,99,99,99]];
const videopinball3_reward = [[0,2],[0.26,4],[0.35,19],[0.43,43],[0.49,62],[0.55,33],[0.6,71],[0.66,43],[0.72,76],[0.78,52],[0.83,95],[0.89,62],[0.95,81],[1.0,43],[1.06,76],[1.12,33],[1.17,71],[1.23,21],[1.29,67],[1.38,76],[1.44,40],[1.49,71],[1.55,43],[1.61,71],[1.66,38],[1.74,71],[1.84,67],[1.92,69],[1.97,19],[2.06,71]];

const rows = [
 [tennis1_gamma,tennis1_lambda,tennis1_gp,tennis1_gv,tennis1_ge,tennis1_alpha,tennis1_reward],
 [tennis2_gamma,tennis2_lambda,tennis2_gp,tennis2_gv,tennis2_ge,tennis2_alpha,tennis2_reward],
 [tennis3_gamma,tennis3_lambda,tennis3_gp,tennis3_gv,tennis3_ge,tennis3_alpha,tennis3_reward],
 [timepilot1_gamma,timepilot1_lambda,timepilot1_gp,timepilot1_gv,timepilot1_ge,timepilot1_alpha,timepilot1_reward],
 [timepilot2_gamma,timepilot2_lambda,timepilot2_gp,timepilot2_gv,timepilot2_ge,timepilot2_alpha,timepilot2_reward],
 [timepilot3_gamma,timepilot3_lambda,timepilot3_gp,timepilot3_gv,timepilot3_ge,timepilot3_alpha,timepilot3_reward],
 [tutankham1_gamma,tutankham1_lambda,tutankham1_gp,tutankham1_gv,tutankham1_ge,tutankham1_alpha,tutankham1_reward],
 [tutankham2_gamma,tutankham2_lambda,tutankham2_gp,tutankham2_gv,tutankham2_ge,tutankham2_alpha,tutankham2_reward],
 [tutankham3_gamma,tutankham3_lambda,tutankham3_gp,tutankham3_gv,tutankham3_ge,tutankham3_alpha,tutankham3_reward],
 [upndown1_gamma,upndown1_lambda,upndown1_gp,upndown1_gv,upndown1_ge,upndown1_alpha,upndown1_reward],
 [upndown2_gamma,upndown2_lambda,upndown2_gp,upndown2_gv,upndown2_ge,upndown2_alpha,upndown2_reward],
 [upndown3_gamma,upndown3_lambda,upndown3_gp,upndown3_gv,upndown3_ge,upndown3_alpha,upndown3_reward],
 [venture1_gamma,venture1_lambda,venture1_gp,venture1_gv,venture1_ge,venture1_alpha,venture1_reward],
 [venture2_gamma,venture2_lambda,venture2_gp,venture2_gv,venture2_ge,venture2_alpha,venture2_reward],
 [venture3_gamma,venture3_lambda,venture3_gp,venture3_gv,venture3_ge,venture3_alpha,venture3_reward],
 [videopinball1_gamma,videopinball1_lambda,videopinball1_gp,videopinball1_gv,videopinball1_ge,videopinball1_alpha,videopinball1_reward],
 [videopinball2_gamma,videopinball2_lambda,videopinball2_gp,videopinball2_gv,videopinball2_ge,videopinball2_alpha,videopinball2_reward],
 [videopinball3_gamma,videopinball3_lambda,videopinball3_gp,videopinball3_gv,videopinball3_ge,videopinball3_alpha,videopinball3_reward]
];
const yLabelsByCol = [gammaTickLabels,lambdaTickLabels,gpTickLabels,gvTickLabels,geTickLabels,alphaTickLabels,rewardTickLabels];

// ---------- layout & style ----------
const colLeft = [19,137,254,372,489,605,723];
const colWidth = [101,100,101,100,101,102,100];
const ROW_TOP = 12, ROW_PITCH = 55, PH = 35;
const PADL = 15, PADR = 7, PADT = 2, XAX = 9;
const BLUE = 'rgba(25,25,255,0.68)';
const MAGENTA = 'rgba(255,0,255,0.62)';
const ORANGE = 'rgba(255,165,0,0.72)';
const TICK_FONT = {family:'DejaVu Sans', size:3};
Chart.defaults.font.family = 'DejaVu Sans';

function toPts(arr, xmax){
  if (Array.isArray(arr[0])) return arr.map(p => ({x:p[0], y:p[1]}));
  const n = arr.length;
  return arr.map((v,i) => ({x: xmax*i/(n-1), y: v}));
}

const offsetLabel = {
  id:'offsetLabel',
  afterDraw(chart){
    const a = chart.chartArea, ctx = chart.ctx;
    ctx.save();
    ctx.font = '3px "DejaVu Sans"';
    ctx.fillStyle = '#666';
    ctx.textAlign = 'right';
    ctx.fillText('1e8', a.right + 2.5, a.bottom + 6);
    ctx.restore();
  }
};

// headers
columnTitles.forEach((t, c) => {
  const d = document.createElement('div');
  d.className = 'hdr';
  d.innerHTML = t;
  d.style.left = (colLeft[c] + colWidth[c]/2) + 'px';
  document.body.appendChild(d);
});

rows.forEach((row, r) => {
  const top = ROW_TOP + ROW_PITCH*r;
  const lab = document.createElement('div');
  lab.className = 'rl';
  lab.textContent = rowLabels[r];
  lab.style.left = (4 - 40) + 'px';
  lab.style.top = (top + PH/2 - 3) + 'px';
  document.body.appendChild(lab);

  row.forEach((panel, c) => {
    const isR = (c === 6);
    const L = colLeft[c], W = colWidth[c];
    const cw = W + PADL + PADR, ch = PH + PADT + XAX;
    const cv = document.createElement('canvas');
    cv.width = cw; cv.height = ch;
    cv.style.left = (L - PADL) + 'px';
    cv.style.top = (top - PADT) + 'px';
    cv.style.width = cw + 'px';
    cv.style.height = ch + 'px';
    document.body.appendChild(cv);
    const datasets = isR
      ? [{data: toPts(panel, 2.08), borderColor: BLUE}]
      : [{data: toPts(panel[0], 2), borderColor: BLUE},
         {data: toPts(panel[2], 2), borderColor: ORANGE},
         {data: toPts(panel[1], 2), borderColor: MAGENTA}];
    const xVals = isR ? rewardXTickVals : xTickVals;
    const xLabs = isR ? rewardXTickLabels : xTickLabels;
    const yLabs = yLabelsByCol[c];
    new Chart(cv, {
      type:'line',
      data:{datasets},
      plugins:[offsetLabel],
      options:{
        responsive:false, animation:false, events:[], devicePixelRatio:1,
        layout:{padding:{left:0, right:PADR, top:PADT, bottom:0}},
        plugins:{legend:{display:false}, tooltip:{enabled:false}},
        elements:{point:{radius:0}, line:{borderWidth:1.1, tension:0, cubicInterpolationMode:'monotone', fill:false}},
        scales:{
          x:{type:'linear', min: isR ? -0.05 : -0.035, max: isR ? 2.1 : 2.055,
             grid:{display:false, drawTicks:false}, border:{display:true, color:'#c8c8c8', width:1},
             ticks:{font:TICK_FONT, color:'#666', padding:1.5, maxRotation:0, minRotation:0, autoSkip:false,
                    callback:(v,i) => xLabs[i]},
             afterBuildTicks(s){ s.ticks = xVals.map(v => ({value:v})); },
             afterFit(s){ s.height = XAX; }},
          y:{type:'linear', min:-3, max:103,
             grid:{display:false, drawTicks:false}, border:{display:true, color:'#c8c8c8', width:1},
             ticks:{font:TICK_FONT, color:'#666', padding:1.5, autoSkip:false,
                    callback:(v,i) => yLabs[i]},
             afterBuildTicks(s){ s.ticks = yTickVals.map(v => ({value:v})); },
             afterFit(s){ s.width = PADL; }}
        }
      }
    });
  });
});
</script>
</body></html>
